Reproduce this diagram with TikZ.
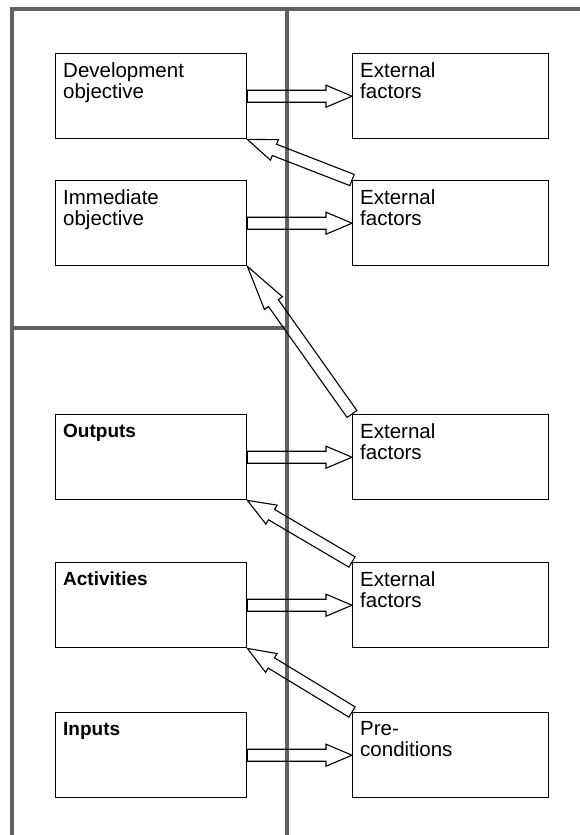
\documentclass[tikz,border=0pt]{standalone}
\usepackage{fontspec}
\setmainfont{Liberation Sans}
\usetikzlibrary{calc}

% hollow block arrow from #2 to #3, head length #1 (pt)
\newcommand\blockarrow[3][26]{%
  \coordinate (hb) at ($(#3)!#1pt!(#2)$);
  \draw[hollow]
    ($(#2)!6pt!90:(#3)$) -- ($(hb)!6pt!90:(#3)$) -- ($(hb)!11pt!90:(#3)$)
    -- (#3)
    -- ($(hb)!11pt!-90:(#3)$) -- ($(hb)!6pt!-90:(#3)$) -- ($(#2)!6pt!-90:(#3)$)
    -- cycle;
}

\begin{document}
\begin{tikzpicture}[x=1pt,y=-1pt,
  frame/.style={line width=3.5pt, draw=black!62},
  lbox/.style={draw=black, line width=1.4pt, minimum width=191pt, minimum height=85pt,
    anchor=north west, inner sep=0pt},
  rbox/.style={lbox, minimum width=196pt},
  txt/.style={anchor=north west, inner sep=0pt, align=left,
    font=\fontsize{20.5}{21.5}\selectfont},
  btxt/.style={txt, font=\fontsize{19}{21}\selectfont\bfseries},
  hollow/.style={draw=black, line width=1.1pt, line join=miter}]

\useasboundingbox (0,0) rectangle (580,835);

% frame of the two-column table
\draw[frame] (12,835) -- (12,9) -- (580,9);
\draw[frame] (287,9) -- (287,835);
\draw[frame] (12,328) -- (287,328);

% left column
\node[lbox] (dev) at (55,53)  {};
\node[lbox] (imm) at (55,180) {};
\node[lbox] (out) at (55,414) {};
\node[lbox] (act) at (55,562) {};
\node[lbox] (inp) at (55,712) {};

\node[txt]  (devT) at (63,62)  {Development\\objective};
\node[txt]  (immT) at (63,189) {Immediate\\objective};
\node[btxt] (outT) at (63,424) {Outputs};
\node[btxt] (actT) at (63,572) {Activities};
\node[btxt] (inpT) at (63,722) {Inputs};

% right column
\node[rbox] (ex1) at (352,53)  {};
\node[rbox] (ex2) at (352,180) {};
\node[rbox] (ex3) at (352,414) {};
\node[rbox] (ex4) at (352,562) {};
\node[rbox] (pre) at (352,712) {};

\node[txt] (ex1T) at (360,62)  {External\\factors};
\node[txt] (ex2T) at (360,189) {External\\factors};
\node[txt] (ex3T) at (360,423) {External\\factors};
\node[txt] (ex4T) at (360,571) {External\\factors};
\node[txt] (preT) at (360,721) {Pre-\\conditions};

% horizontal links
\blockarrow{dev.east}{ex1.west}
\blockarrow{imm.east}{ex2.west}
\blockarrow{out.east}{ex3.west}
\blockarrow{act.east}{ex4.west}
\blockarrow{inp.east}{pre.west}

% diagonal links
\blockarrow[29]{ex2.north west}{dev.south east}
\blockarrow[45]{ex3.north west}{imm.south east}
\blockarrow[28]{ex4.north west}{out.south east}
\blockarrow[28]{pre.north west}{act.south east}

\end{tikzpicture}
\end{document}
